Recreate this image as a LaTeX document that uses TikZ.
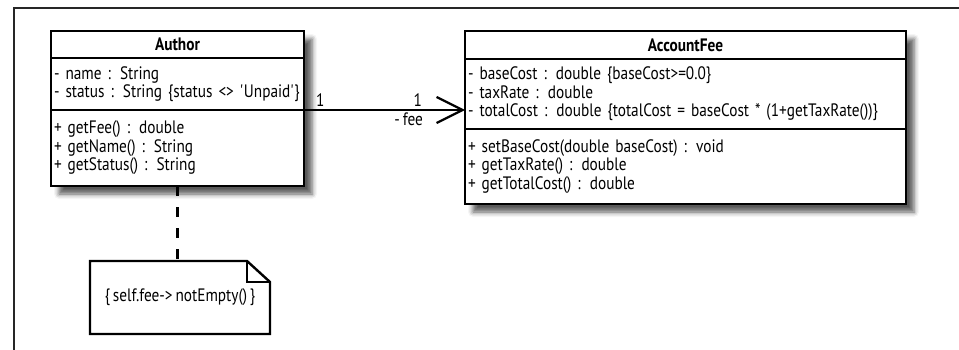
\documentclass[tikz,border=0pt]{standalone}
\usepackage{fontspec}
\setmainfont{PT Sans}[FakeStretch=0.85, WordSpace=0.7]
\usetikzlibrary{positioning, fit, backgrounds, shadows.blur, arrows.meta}
\newcommand{\umlfont}{\fontsize{18}{18.5}\selectfont}

\begin{document}
\begin{tikzpicture}[
  x=1pt, y=-1pt,
  cls/.style={draw, line width=2.6pt, fill=white, inner xsep=3pt, inner ysep=0pt,
              outer sep=0pt, align=left, font=\umlfont},
  title/.style={cls, align=center, font=\umlfont\bfseries},
  shade/.style={draw=none, fill=white, inner sep=0pt,
                blur shadow={shadow xshift=8pt, shadow yshift=-8pt,
                             shadow blur radius=5pt, shadow opacity=65}},
  mult/.style={font=\umlfont, inner sep=2pt},
  assoc/.style={line width=2.2pt, -{Straight Barb[length=26pt, width=26pt]}},
  anchorline/.style={line width=2.6pt, dash pattern=on 10pt off 11pt},
  notebox/.style={font=\umlfont, inner sep=4pt, outer sep=0pt,
                  minimum width=180pt, minimum height=73pt},
  noteline/.style={line width=2.4pt, line join=miter},
  frame/.style={line width=1.6pt, black!85},
]
\useasboundingbox (0,0) rectangle (959,350);
\draw[frame] (14,350) -- (14,8) -- (959,8);

% Author
\node[title, text width=247pt, minimum height=27pt, anchor=north west] (author) at (51,31) {Author};
\node[cls, text width=247pt, minimum height=52pt, below=0pt of author] (author-attr)
  {- name : String\\- status : String \{status <> \textquotesingle Unpaid\textquotesingle\}};
\node[cls, text width=247pt, minimum height=76pt, below=0pt of author-attr] (author-ops)
  {+ getFee() : double\\+ getName() : String\\+ getStatus() : String};

% AccountFee
\node[title, text width=435pt, minimum height=28pt, anchor=north west] (fee) at (465,31) {AccountFee};
\node[cls, text width=435pt, minimum height=70pt, below=0pt of fee] (fee-attr)
  {- baseCost : double \{baseCost>=0.0\}\\- taxRate : double\\- totalCost : double \{totalCost = baseCost * (1+getTaxRate())\}};
\node[cls, text width=435pt, minimum height=75pt, below=0pt of fee-attr] (fee-ops)
  {+ setBaseCost(double baseCost) : void\\+ getTaxRate() : double\\+ getTotalCost() : double};

\begin{scope}[on background layer]
  \node[shade, fit=(author)(author-ops)] (author-shade) {};
  \node[shade, fit=(fee)(fee-ops)] (fee-shade) {};
\end{scope}

\draw[assoc] (author-attr.south east) -- (author-attr.south east -| fee-attr.west)
  node[mult, pos=0, anchor=south west, xshift=9pt] {1}
  node[mult, pos=1, anchor=south east, xshift=-40pt] {1}
  node[mult, pos=1, anchor=north east, xshift=-39pt] {- fee};

% constraint note
\node[notebox] (note) at (180,297.5) {\{ self.fee-> notEmpty() \}};
\draw[noteline] (note.north west) -- ([xshift=-23pt]note.north east)
  -- ([yshift=-21pt]note.north east) -- (note.south east) -- (note.south west) -- cycle;
\draw[noteline] ([xshift=-23pt]note.north east) |- ([yshift=-21pt]note.north east);
\draw[anchorline] (author-ops.south) -- (author-ops.south |- note.north);
\end{tikzpicture}
\end{document}
